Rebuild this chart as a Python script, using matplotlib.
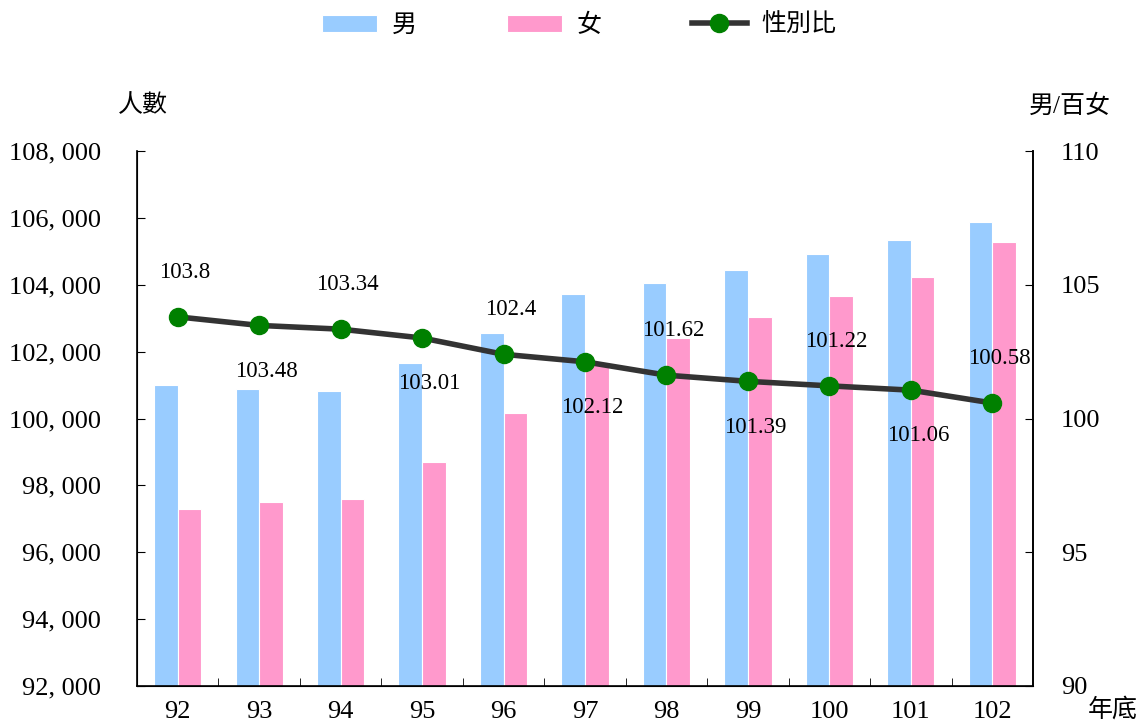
import matplotlib
matplotlib.use("Agg")
import matplotlib.pyplot as plt
import numpy as np

plt.rcParams['font.family'] = ['Liberation Serif', 'Noto Sans CJK TC']

years = ['92', '93', '94', '95', '96', '97', '98', '99', '100', '101', '102']
male = [101000, 100880, 100820, 101660, 102560, 103720, 104050, 104440, 104920, 105340, 105880]
female = [97290, 97500, 97590, 98700, 100160, 101690, 102410, 103040, 103660, 104230, 105280]
ratio = [103.8, 103.48, 103.34, 103.01, 102.4, 102.12, 101.62, 101.39, 101.22, 101.06, 100.58]
ratio_labels = ['103.8', '103.48', '103.34', '103.01', '102.4', '102.12',
                '101.62', '101.39', '101.22', '101.06', '100.58']

x = np.arange(len(years))
w = 0.29

fig = plt.figure(figsize=(11.47, 7.26), dpi=100)
ax = fig.add_axes([0.1194, 0.0551, 0.7812, 0.7369])

b1 = ax.bar(x - w / 2, male, w, color='#99CCFF', edgecolor='white', linewidth=0.8, label='男')
b2 = ax.bar(x + w / 2, female, w, color='#FF99CC', edgecolor='white', linewidth=0.8, label='女')
ax.set_xlim(-0.5, len(years) - 0.5)
ax.set_ylim(92000, 108000)
ax.set_yticks(np.arange(92000, 108001, 2000))
ax.set_yticklabels([f'{v // 1000}, {v % 1000:03d}' for v in range(92000, 108001, 2000)], fontsize=19)
ax.tick_params(axis='y', direction='in', length=6, pad=26)
ax.set_xticks(x)
ax.set_xticklabels(years, fontsize=19)
ax.set_xticks(np.arange(0.5, len(years) - 1, 1), minor=True)
ax.tick_params(axis='x', which='major', length=0, pad=11)
ax.tick_params(axis='x', which='minor', direction='in', length=6)
ax.spines['top'].set_visible(False)
for s in ['left', 'bottom', 'right']:
    ax.spines[s].set_linewidth(1.2)

ax2 = ax.twinx()
ln, = ax2.plot(x, ratio, color='#333333', linewidth=4, marker='o', markersize=13,
               markerfacecolor='#008000', markeredgecolor='#008000', label='性別比', zorder=5)
ax2.set_ylim(90, 110)
ax2.set_yticks([90, 95, 100, 105, 110])
ax2.tick_params(axis='y', direction='in', length=6, pad=20, labelsize=19)
ax2.spines['top'].set_visible(False)
ax2.spines['right'].set_linewidth(1.2)

for i, (v, t) in enumerate(zip(ratio, ratio_labels)):
    dy = 32 if i % 2 == 0 else -33
    ax2.annotate(t, (x[i], v), xytext=(5, dy), textcoords='offset points',
                 ha='center', va='center', fontsize=16.5)

fig.text(0.1247, 0.854, '人數', fontsize=18, ha='center', va='center')
fig.text(0.933, 0.854, '男/百女', fontsize=18, ha='center', va='center')
fig.text(0.970, 0.022, '年底', fontsize=18, ha='center', va='center')

fig.legend(handles=[b1, b2, ln], loc='upper center', bbox_to_anchor=(0.505, 1.012), ncol=3,
           frameon=False, fontsize=18, columnspacing=3.6, handlelength=2.2, handletextpad=0.6)

fig.savefig('out.png', dpi=100)
